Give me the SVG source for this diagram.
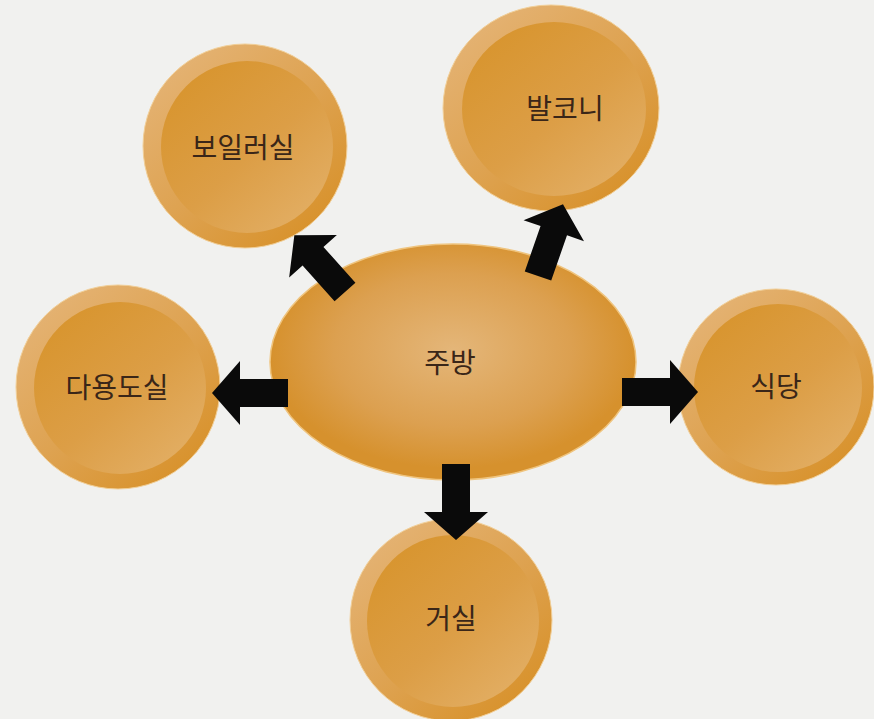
<svg xmlns="http://www.w3.org/2000/svg" xmlns:xlink="http://www.w3.org/1999/xlink" width="874" height="719" viewBox="0 0 874 719">
<defs>
<linearGradient id="outer" x1="0.15" y1="0.1" x2="0.85" y2="0.9">
<stop offset="0" stop-color="#e4b272"/>
<stop offset="0.5" stop-color="#dea352"/>
<stop offset="1" stop-color="#d8922c"/>
</linearGradient>
<linearGradient id="inner" x1="0.15" y1="0.1" x2="0.85" y2="0.9">
<stop offset="0" stop-color="#d8952f"/>
<stop offset="0.55" stop-color="#dc9e46"/>
<stop offset="1" stop-color="#e2ad62"/>
</linearGradient>
<radialGradient id="center" cx="0.5" cy="0.45" r="0.5">
<stop offset="0" stop-color="#e4b679"/>
<stop offset="0.65" stop-color="#dca050"/>
<stop offset="1" stop-color="#d6912d"/>
</radialGradient>
<path id="arr" d="M0,-14 L48,-14 L48,-32 L76,0 L48,32 L48,14 L0,14 Z"/>
</defs>
<style>
.outer{fill:url(#outer);stroke:#f1cf98;stroke-width:1}
.inner{fill:url(#inner)}
.lbl{font-family:"Noto Sans CJK KR","Noto Sans",sans-serif;font-size:28px;fill:#3a2618;text-anchor:middle;dominant-baseline:central}
.arrow{fill:#0a0a0a}
</style>
<rect width="874" height="719" fill="#f1f1ef"/>
<g id="node-boiler">
<circle class="outer" cx="245" cy="146" r="102"/>
<circle class="inner" cx="247" cy="147" r="86"/>
<text class="lbl" x="243" y="146">보일러실</text>
</g>
<g id="node-balcony">
<ellipse class="outer" cx="551" cy="108" rx="108" ry="103"/>
<ellipse class="inner" cx="554" cy="109" rx="92" ry="87"/>
<text class="lbl" x="565" y="107">발코니</text>
</g>
<g id="node-utility">
<circle class="outer" cx="118" cy="387" r="102"/>
<circle class="inner" cx="120" cy="388" r="86"/>
<text class="lbl" x="117" y="386">다용도실</text>
</g>
<g id="node-dining">
<circle class="outer" cx="776" cy="387" r="98"/>
<circle class="inner" cx="778" cy="388" r="84"/>
<text class="lbl" x="776" y="385">식당</text>
</g>
<g id="node-living">
<circle class="outer" cx="451" cy="620" r="101"/>
<circle class="inner" cx="453" cy="621" r="86"/>
<text class="lbl" x="451" y="617">거실</text>
</g>
<g id="node-kitchen">
<ellipse cx="453" cy="362" rx="183" ry="118" fill="url(#center)" stroke="#efc47e" stroke-width="1.5"/>
<text class="lbl" x="450" y="361">주방</text>
</g>
<g id="connectors" class="arrow">
<use xlink:href="#arr" transform="translate(288,393) rotate(180)"/>
<use xlink:href="#arr" transform="translate(622,392)"/>
<use xlink:href="#arr" transform="translate(456,464) rotate(90)"/>
<use xlink:href="#arr" transform="translate(345,292) rotate(-131.8)"/>
<use xlink:href="#arr" transform="translate(538,276) rotate(-70.8)"/>
</g>
</svg>
